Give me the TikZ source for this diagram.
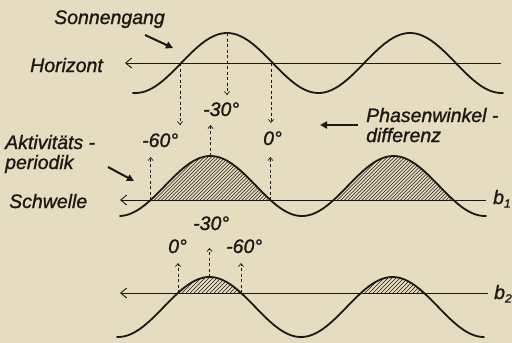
\documentclass[tikz,border=0pt]{standalone}
\usepackage{fontspec}
\setmainfont{Liberation Sans}[ItalicFeatures={FakeBold=1.2}]
\usetikzlibrary{arrows.meta}
\definecolor{paper}{RGB}{230,220,192}
\definecolor{ink}{RGB}{28,24,20}
\tikzset{
  curve/.style={ink, line width=1.8pt, line join=round, line cap=round},
  axisline/.style={ink, line width=0.9pt, -{Straight Barb[length=6pt,width=10pt,line width=0.9pt]}},
  dasharrow/.style={ink, line width=0.8pt, dash pattern=on 3pt off 2.5pt, -{Straight Barb[length=3pt,width=5pt,line width=0.7pt]}},
  lbl/.style={ink, font=\fontsize{19.5}{21}\selectfont\itshape, inner sep=0pt, anchor=base west},
  pointer/.style={ink, line width=2pt, -{Triangle[length=7pt,width=7pt]}},
  hatchline/.style={ink, line width=0.5pt},
}
\begin{document}
\begin{tikzpicture}[x=1pt,y=-1pt]
\fill[paper] (0,0) rectangle (512,343);
\useasboundingbox (0,0) rectangle (512,343);

% ---------- top: Sonnengang ----------
\draw[curve] plot[domain=133:503,samples=160] (\x,{63-30*cos(1.967213*(\x-227))});
\coordinate (hR) at (501,63);
\coordinate (hL) at (125,63);
\draw[axisline] (hR) -- (hL);

% ---------- middle: Aktivitaet b1 ----------
\begin{scope}
  \clip plot[domain=150.6:270.4,samples=80] (\x,{186-30*cos(1.967213*(\x-210.5))}) -- cycle;
  \foreach \i in {90,93.5,...,300} \draw[hatchline] (\i,205) -- ++(60,-60);
\end{scope}
\begin{scope}
  \clip plot[domain=333.6:453.4,samples=80] (\x,{186-30*cos(1.967213*(\x-210.5))}) -- cycle;
  \foreach \i in {273,276.5,...,483} \draw[hatchline] (\i,205) -- ++(60,-60);
\end{scope}
\draw[curve] plot[domain=120:486,samples=160] (\x,{186-30*cos(1.967213*(\x-210.5))});
\coordinate (sR) at (486,200);
\coordinate (sL) at (120,200);
\draw[axisline] (sR) -- (sL);

% ---------- bottom: b2 ----------
\begin{scope}
  \clip plot[domain=178:241,samples=60] (\x,{307-30*cos(1.967213*(\x-209.5))}) -- cycle;
  \foreach \i in {150,154,...,260} \draw[hatchline] (\i,297) -- ++(30,-30);
\end{scope}
\begin{scope}
  \clip plot[domain=361:424,samples=60] (\x,{307-30*cos(1.967213*(\x-209.5))}) -- cycle;
  \foreach \i in {333,337,...,443} \draw[hatchline] (\i,297) -- ++(30,-30);
\end{scope}
\draw[curve] plot[domain=117:484,samples=160] (\x,{307-30*cos(1.967213*(\x-209.5))});
\coordinate (bR) at (488,293);
\coordinate (bL) at (120,293);
\draw[axisline] (bR) -- (bL);

% ---------- labels ----------
\node[lbl] (sonne) at (54,24) {Sonnengang};
\node[lbl] (horiz) at (30,72) {Horizont};
\node[lbl] (akt) at (5,149) {Aktivitäts -};
\node[lbl] (per) at (5,169) {periodik};
\node[lbl] (schw) at (9,208) {Schwelle};
\node[lbl] (phase) at (366,122) {Phasenwinkel -};
\node[lbl] (diff) at (366,142) {differenz};
\node[lbl] (b1) at (493,204) {b\raisebox{-0.35ex}{\fontsize{12}{12}\selectfont 1}};
\node[lbl] (b2) at (494,299) {b\raisebox{-0.35ex}{\fontsize{12}{12}\selectfont 2}};

\node[lbl] (t30) at (203,116) {-30°};
\node[lbl] (m60) at (142,147) {-60°};
\node[lbl] (m0) at (263,145) {0°};
\node[lbl] (u30) at (193,230) {-30°};
\node[lbl] (u0) at (168,253) {0°};
\node[lbl] (u60) at (226,253) {-60°};

% ---------- pointer arrows ----------
\coordinate (p1a) at (145,35); \coordinate (p1b) at (173,48);
\draw[pointer] (p1a) -- (p1b);
\coordinate (p2a) at (108,167); \coordinate (p2b) at (134,181);
\draw[pointer] (p2a) -- (p2b);
\coordinate (p3a) at (358,125); \coordinate (p3b) at (320,125);
\draw[pointer] (p3a) -- (p3b);

% ---------- dashed phase arrows ----------
\coordinate (a1) at (227,33);  \coordinate (a1e) at (227,95);
\coordinate (a2) at (180,63);  \coordinate (a2e) at (180,125);
\coordinate (a3) at (271,63);  \coordinate (a3e) at (271,123);
\draw[dasharrow] (a1) -- (a1e);
\draw[dasharrow] (a2) -- (a2e);
\draw[dasharrow] (a3) -- (a3e);
\coordinate (c1) at (150.6,200); \coordinate (c1e) at (150.6,157);
\coordinate (c2) at (210.5,156); \coordinate (c2e) at (210.5,125);
\coordinate (c3) at (270.4,200); \coordinate (c3e) at (270.4,157);
\draw[dasharrow] (c1) -- (c1e);
\draw[dasharrow] (c2) -- (c2e);
\draw[dasharrow] (c3) -- (c3e);
\coordinate (d1) at (178,293); \coordinate (d1e) at (178,263);
\coordinate (d2) at (209.5,277); \coordinate (d2e) at (209.5,248);
\coordinate (d3) at (241,293); \coordinate (d3e) at (241,263);
\draw[dasharrow] (d1) -- (d1e);
\draw[dasharrow] (d2) -- (d2e);
\draw[dasharrow] (d3) -- (d3e);
\end{tikzpicture}
\end{document}
